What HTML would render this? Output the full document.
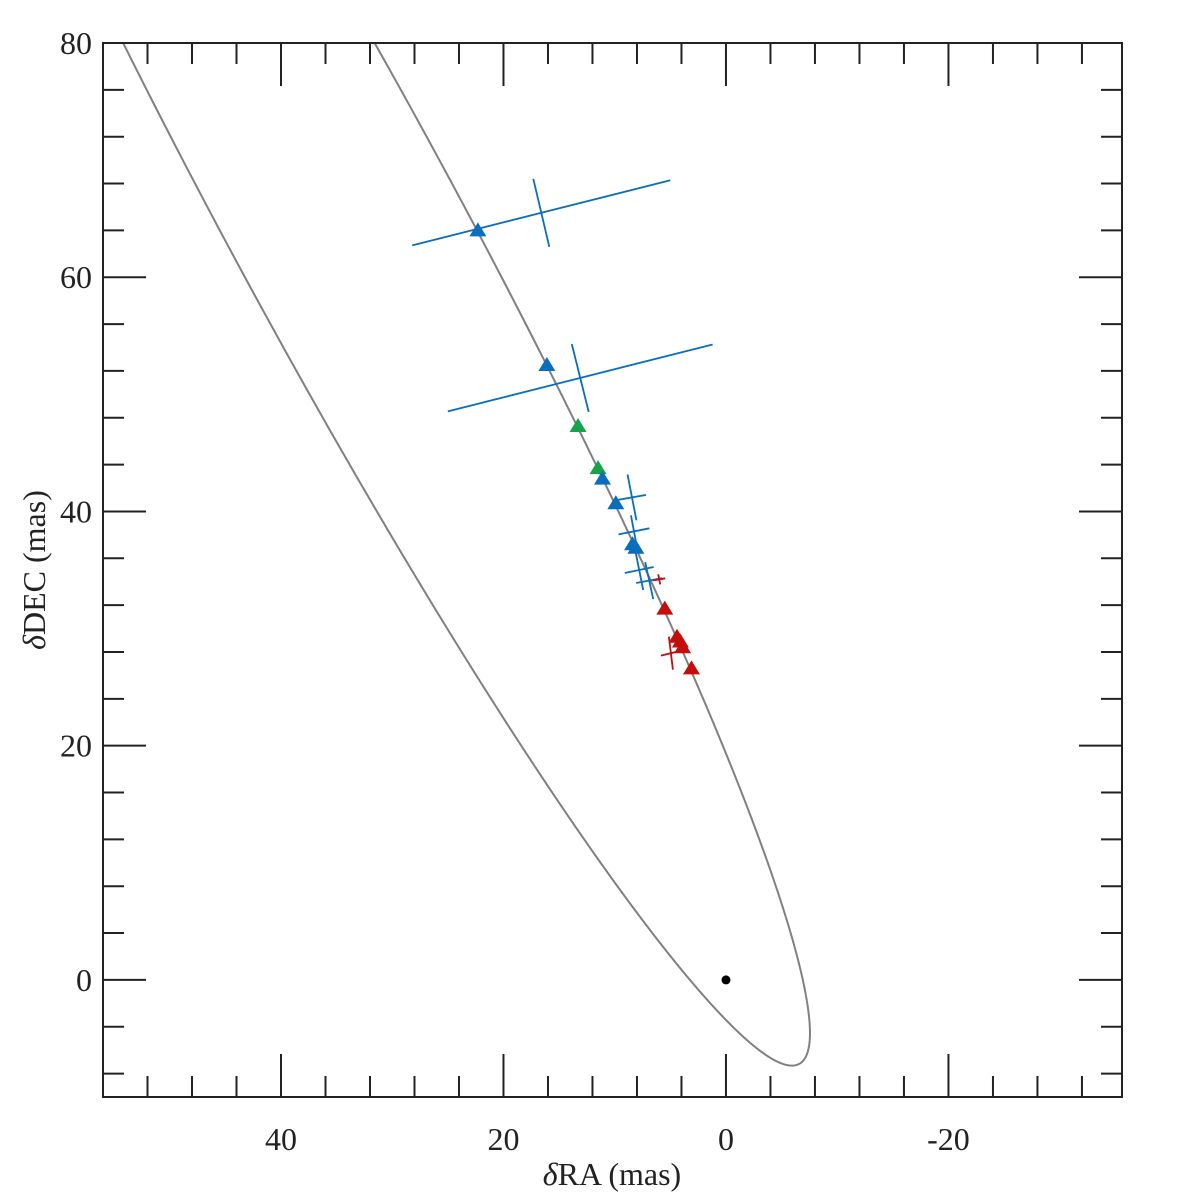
<!DOCTYPE html>
<html><head><meta charset="utf-8"><style>
html,body{margin:0;padding:0;background:#fff;}
svg{display:block;}
text{font-family:"Liberation Serif",serif;fill:#222;}
</style></head><body>
<svg id="chart" width="1200" height="1200" viewBox="0 0 1200 1200">
<defs><clipPath id="plotclip"><rect x="103" y="43" width="1019" height="1054"/></clipPath></defs>
<g id="orbit" clip-path="url(#plotclip)"></g>
<g id="errors" clip-path="url(#plotclip)"></g>
<g id="points"></g>
<g id="axes"></g>
<text x="612" y="1185" font-size="32" text-anchor="middle"><tspan font-style="italic">δ</tspan>RA (mas)</text>
<text transform="translate(45,570) rotate(-90)" font-size="32" text-anchor="middle"><tspan font-style="italic">δ</tspan>DEC (mas)</text>
</svg>
<script>
// ---- data ----
const orbitRA  = [31.7, 24.2, 16.2, 11.3, 5.5, 2.6, -0.09, -3.06, -4.59, -6.38, -7.37, -7.46, -6.92, -5.94, -3.69, -0.63, 2.34, 6.83, 11.33, 17.7, 27.4, 37.05, 54.2];
const orbitDEC = [80.0, 67.8, 52.5, 42.9, 30.9, 25.6, 18.8, 12.1, 8.28, 2.56, -1.71, -4.27, -6.23, -6.66, -5.72, -3.67, -0.85, 4.01, 10.5, 18.96, 33.3, 49.6, 80.0];
const ptRA   = [22.3, 16.1, 13.3, 11.5, 11.1, 9.9, 8.4, 8.1, 5.5, 4.4, 4.1, 3.9, 3.1];
const ptDEC  = [64.0, 52.5, 47.3, 43.7, 42.8, 40.7, 37.2, 36.9, 31.7, 29.3, 28.9, 28.4, 26.6];
const ptSet  = ["blue","blue","green","green","blue","blue","blue","blue","red","red","red","red","red"];
const errRA  = [16.6, 13.1, 8.45, 8.27, 7.8, 6.9, 6.0, 4.95];
const errDEC = [65.5, 51.4, 41.2, 38.3, 35.0, 34.1, 34.2, 27.9];
const errA1x = [-11.6, -11.9, -1.26, -1.39, -1.3, -1.17, -0.54, -0.9];
const errA1y = [2.78, 2.86, 0.21, 0.26, 0.26, 0.21, 0.09, 0.21];
const errA2x = [-0.72, -0.76, -0.4, -0.27, -0.36, -0.36, -0.09, -0.18];
const errA2y = [-2.9, -2.9, -1.96, -1.37, -1.71, -1.58, -0.43, -1.41];
const errSet = ["blue","blue","blue","blue","blue","blue","red","red"];
const xTicks = [40, 20, 0, -20];
const yTicks = [80, 60, 40, 20, 0];
const xTickLabels = ["40", "20", "0", "-20"];
const yTickLabels = ["80", "60", "40", "20", "0"];

const colors = {blue:"#0a6ebd", green:"#16a44a", red:"#c40d0d"};
const L=103, R=1122, T=43, B=1097;
const xMin=56.0, xMax=-35.6, yMin=-10, yMax=80;
function sx(v){return L+(v-xMin)/(xMax-xMin)*(R-L);}
function sy(v){return B-(v-yMin)/(yMax-yMin)*(B-T);}
const NS="http://www.w3.org/2000/svg";
function mk(tag,attrs,parent){const e=document.createElementNS(NS,tag);for(const k in attrs)e.setAttribute(k,attrs[k]);parent.appendChild(e);return e;}

// ---- orbit ----
function conicPath(){
  const S=30, M=[], v=[0,0,0,0,0];
  for(let a=0;a<5;a++)M.push([0,0,0,0,0]);
  for(let i=0;i<orbitRA.length;i++){
    const x=orbitRA[i]/S, y=orbitDEC[i]/S, r=[x*x,x*y,y*y,x,y];
    for(let a=0;a<5;a++){v[a]+=r[a];for(let b=0;b<5;b++)M[a][b]+=r[a]*r[b];}
  }
  for(let c=0;c<5;c++){
    let p=c;for(let r=c+1;r<5;r++)if(Math.abs(M[r][c])>Math.abs(M[p][c]))p=r;
    [M[c],M[p]]=[M[p],M[c]];[v[c],v[p]]=[v[p],v[c]];
    for(let r=0;r<5;r++){if(r===c)continue;const f=M[r][c]/M[c][c];for(let k=c;k<5;k++)M[r][k]-=f*M[c][k];v[r]-=f*v[c];}
  }
  const s=v.map((val,i)=>val/M[i][i]);
  if(!(s[1]*s[1]-4*s[0]*s[2]<0) || s[0]<=0) return null;
  function rad(th){const c=Math.cos(th),sn=Math.sin(th);const Q=s[0]*c*c+s[1]*c*sn+s[2]*sn*sn, Lq=s[3]*c+s[4]*sn;const disc=Lq*Lq+4*Q;if(Q<=0||disc<0)return NaN;return S*(-Lq+Math.sqrt(disc))/(2*Q);}
  let maxErr=0;
  for(let i=0;i<orbitRA.length;i++){
    const th=Math.atan2(orbitDEC[i],orbitRA[i]), r0=Math.hypot(orbitRA[i],orbitDEC[i]), r=rad(th);
    if(isNaN(r))return null;
    maxErr=Math.max(maxErr,Math.abs(r-r0)*Math.abs(Math.sin(Math.atan2(1,1))));
  }
  if(maxErr>1.6) return null;
  let d="";
  for(let i=0;i<=2880;i++){
    const th=i/2880*2*Math.PI, r=rad(th); if(isNaN(r))return null;
    d+=(d?"L":"M")+sx(r*Math.cos(th)).toFixed(2)+","+sy(r*Math.sin(th)).toFixed(2);
  }
  return d+"Z";
}
function splinePath(){
  const P=orbitRA.map((v,i)=>[sx(v),sy(orbitDEC[i])]);
  const n=P.length;
  const ext=[[2*P[0][0]-P[1][0],2*P[0][1]-P[1][1]],...P,[2*P[n-1][0]-P[n-2][0],2*P[n-1][1]-P[n-2][1]]];
  ext.unshift([3*P[0][0]-2*P[1][0],3*P[0][1]-2*P[1][1]]);
  ext.push([3*P[n-1][0]-2*P[n-2][0],3*P[n-1][1]-2*P[n-2][1]]);
  function tj(ti,a,b){return ti+Math.pow(Math.hypot(b[0]-a[0],b[1]-a[1]),0.5)+1e-6;}
  function lerp(a,b,t0,t1,t){const u=(t-t0)/(t1-t0);return [a[0]+(b[0]-a[0])*u,a[1]+(b[1]-a[1])*u];}
  let d="";
  for(let i=1;i<ext.length-2;i++){
    const p0=ext[i-1],p1=ext[i],p2=ext[i+1],p3=ext[i+2];
    const t0=0,t1=tj(t0,p0,p1),t2=tj(t1,p1,p2),t3=tj(t2,p2,p3);
    for(let k=0;k<=20;k++){
      const t=t1+(t2-t1)*k/20;
      const A1=lerp(p0,p1,t0,t1,t),A2=lerp(p1,p2,t1,t2,t),A3=lerp(p2,p3,t2,t3,t);
      const B1=lerp(A1,A2,t0,t2,t),B2=lerp(A2,A3,t1,t3,t);
      const C=lerp(B1,B2,t1,t2,t);
      d+=(d?"L":"M")+C[0].toFixed(2)+","+C[1].toFixed(2);
    }
  }
  return d;
}
(function(){
  const d=conicPath()||splinePath();
  const p=mk("path",{d:d,fill:"none",stroke:"#808080","stroke-width":2,"stroke-linejoin":"round"},document.getElementById("orbit"));
  
  
})();

// ---- error crosses ----
const eg=document.getElementById("errors");
for(let i=0;i<errRA.length;i++){
  const g=mk("g",{stroke:colors[errSet[i]],"stroke-width":1.8},eg);
  
  
  mk("line",{x1:sx(errRA[i]-errA1x[i]),y1:sy(errDEC[i]-errA1y[i]),x2:sx(errRA[i]+errA1x[i]),y2:sy(errDEC[i]+errA1y[i])},g);
  mk("line",{x1:sx(errRA[i]-errA2x[i]),y1:sy(errDEC[i]-errA2y[i]),x2:sx(errRA[i]+errA2x[i]),y2:sy(errDEC[i]+errA2y[i])},g);
}

// ---- triangles ----
const pg=document.getElementById("points");
for(let i=0;i<ptRA.length;i++){
  const x=sx(ptRA[i]), y=sy(ptDEC[i]);
  const t=mk("polygon",{points:`${x-8.5},${y+6} ${x+8.5},${y+6} ${x},${y-8}`,fill:colors[ptSet[i]]},pg);
  
  
}
const dot=mk("circle",{cx:sx(0),cy:sy(0),r:4.5,fill:"#000"},pg);



// ---- axes ----
const ax=document.getElementById("axes");
const fr=mk("rect",{x:L,y:T,width:R-L,height:B-T,fill:"none",stroke:"#222","stroke-width":2},ax);


const tk=mk("g",{stroke:"#222","stroke-width":2},ax);
for(let v=52;v>=-32;v-=4){
  const x=sx(v), len=(v%20===0)?43:21;
  mk("line",{x1:x,y1:B,x2:x,y2:B-len},tk);
  mk("line",{x1:x,y1:T,x2:x,y2:T+len},tk);
}
for(let v=-8;v<=80;v+=4){
  const y=sy(v), len=(v%20===0)?43:21;
  mk("line",{x1:L,y1:y,x2:L+len,y2:y},tk);
  mk("line",{x1:R,y1:y,x2:R-len,y2:y},tk);
}
for(let i=0;i<xTicks.length;i++){
  const t=mk("text",{x:sx(xTicks[i]),y:1150,"font-size":32,"text-anchor":"middle"},ax);
  t.textContent=xTickLabels[i];
  
  
}
for(let i=0;i<yTicks.length;i++){
  const t=mk("text",{x:92,y:sy(yTicks[i])+11,"font-size":32,"text-anchor":"end"},ax);
  t.textContent=yTickLabels[i];
  
  
}
</script>
</body></html>
